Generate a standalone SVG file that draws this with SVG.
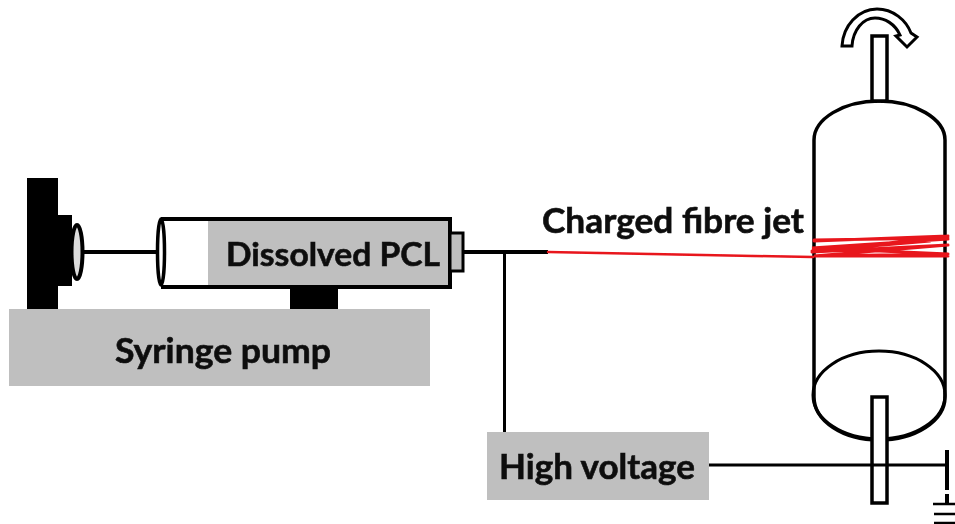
<svg xmlns="http://www.w3.org/2000/svg" width="955" height="524" viewBox="0 0 955 524">
<style>
.gray{fill:#bfbfbf}
.blk{fill:#000}
.ln{fill:none;stroke:#000;stroke-width:4}
.thin{fill:none;stroke:#000;stroke-width:3}
.sh{fill:#fff;stroke:#000;stroke-width:3.500}
.red{fill:none;stroke:#e8141c;stroke-linecap:round}
text{font-family:Lato,"Liberation Sans",sans-serif;font-weight:700;fill:#111;stroke:#111;stroke-width:0.600}
</style>
<defs><filter id="b" x="-2%" y="-2%" width="104%" height="104%"><feGaussianBlur stdDeviation="0.7"/></filter></defs>
<rect width="955" height="524" fill="#fff"/>
<g filter="url(#b)">
<g id="pump">
<rect class="gray" x="9" y="309" width="421" height="77"/>
<text x="223" y="363" font-size="34" text-anchor="middle" textLength="216" lengthAdjust="spacingAndGlyphs">Syringe pump</text>
<rect class="blk" x="27" y="178" width="31" height="131"/>
<rect class="blk" x="58" y="215" width="14" height="71"/>
<rect class="blk" x="290" y="287" width="48" height="22"/>
</g>
<g id="syringe">
<rect class="gray" x="208" y="220" width="242" height="65"/>
<path class="ln" d="M161 219H450V287H161"/>
<rect x="450" y="233" width="13" height="38" fill="#bfbfbf" stroke="#000" stroke-width="3"/>
<ellipse cx="77" cy="252" rx="5.500" ry="27" fill="#ddd" stroke="#000" stroke-width="4"/>
<ellipse cx="161" cy="252" rx="3.500" ry="33" fill="#fff" stroke="#000" stroke-width="3.500"/>
<text x="333" y="266" font-size="33" text-anchor="middle" textLength="214" lengthAdjust="spacingAndGlyphs">Dissolved PCL</text>
</g>
<g id="connectors">
<path class="ln" d="M83 252H158"/>
<path class="ln" d="M463 252H548"/>
<path class="thin" d="M504.500 252V432"/>
</g>
<g id="drum">
<path class="sh" d="M814 397V140C814 119 843 101 879 101C915 101 945 119 945 140V397C945 421 915 440 879 440C843 440 814 421 814 397Z"/>
<ellipse class="thin" cx="879" cy="395" rx="66" ry="44"/>
<rect class="sh" x="872" y="36" width="15" height="65"/>
<rect class="sh" x="872" y="397" width="15" height="106"/>
<path class="thin" d="M709 465H947"/>
<path d="M842 46C843 26 858 9 877 9C893 9 906 20 911 33L917 37L907 47L896 36L900 35C895 24 885 18 875 18C863 18 853 30 852 46Z" fill="#fff" stroke="#000" stroke-width="3"/>
</g>
<g id="jet">
<path class="red" stroke-width="2.500" d="M548 252L813 257"/>
<path class="red" stroke-width="3" d="M814 241L948 236M948 236L812 252M812 252L948 245M948 245L814 256L948 254M948 254L812 248L948 239M815 256L948 256M814 240L948 238M812 251L930 241"/>
</g>
<g id="hv">
<rect class="gray" x="487" y="432" width="222" height="68"/>
<text x="597" y="479" font-size="34" text-anchor="middle" textLength="196" lengthAdjust="spacingAndGlyphs">High voltage</text>
</g>
<g id="ground">
<path d="M947 450V490M947 494V504" fill="none" stroke="#000" stroke-width="4"/>
<path d="M933 504H955M934 514H955M934 523H955" fill="none" stroke="#000" stroke-width="2.500"/>
</g>
<g id="jet-label">
<text x="673" y="233" font-size="34" text-anchor="middle" textLength="262" lengthAdjust="spacingAndGlyphs">Charged fibre jet</text>
</g>
</g>
</svg>
